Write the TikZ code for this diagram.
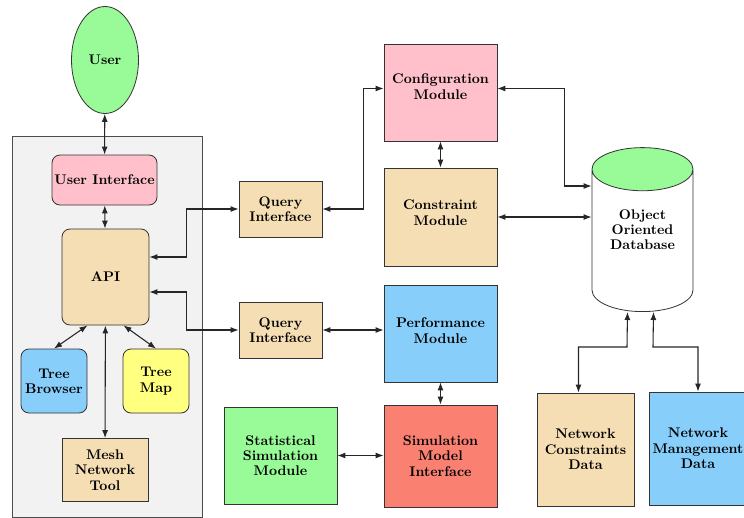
\documentclass[tikz,border=0pt]{standalone}
\usepackage{xcolor}
\usepackage{tikz}
\usetikzlibrary{shapes.geometric,arrows.meta,calc}

\definecolor{mintgreen}{HTML}{98FB98}
\definecolor{rosepink}{HTML}{FFC0CB}
\definecolor{wheat}{HTML}{F5DEB3}
\definecolor{skyblue}{HTML}{87CEFA}
\definecolor{paleyellow}{HTML}{FFFF80}
\definecolor{salmon}{HTML}{FA8072}
\definecolor{panelgray}{HTML}{F2F2F2}

\tikzset{
    box/.style={draw=black!80,line width=0.6pt,align=center,inner sep=1pt,
        font=\bfseries\fontsize{10.5}{11.5}\selectfont},
    rbox/.style={box,rounded corners=6pt},
    link/.style={<->,>={Latex[length=6pt,width=4.5pt]},draw=black!85,line width=0.8pt},
}

\begin{document}
\begin{tikzpicture}[x=0.75pt,y=-0.75pt]
    \useasboundingbox (0,0) rectangle (744,518);
    % client side panel
    \filldraw[fill=panelgray,draw=black!70,line width=0.6pt] (12,136) rectangle (202,517);

    \node[box,ellipse,fill=mintgreen,minimum width=50.25pt,minimum height=80.25pt] (user) at (105,60) {User};
    \node[rbox,fill=rosepink,minimum width=78.75pt,minimum height=37.5pt] (ui) at (104.5,180) {User Interface};
    \node[rbox,fill=wheat,minimum width=65.25pt,minimum height=72pt] (api) at (105.5,277) {API};
    \node[rbox,fill=skyblue,minimum width=49.5pt,minimum height=48pt] (tb) at (54,381) {Tree\\Browser};
    \node[rbox,fill=paleyellow,minimum width=49.5pt,minimum height=48pt] (tm) at (156,381) {Tree\\Map};
    \node[box,fill=wheat,minimum width=64.5pt,minimum height=47.25pt] (mesh) at (105,470) {Mesh\\Network\\Tool};

    % query layer
    \node[box,fill=wheat,minimum width=62.25pt,minimum height=42pt] (qa) at (280.5,209) {Query\\Interface};
    \node[box,fill=wheat,minimum width=62.25pt,minimum height=42pt] (qb) at (280.5,330) {Query\\Interface};
    \node[box,fill=mintgreen,minimum width=84.75pt,minimum height=72.75pt] (ssm) at (280.5,455.5) {Statistical\\Simulation\\Module};

    % modules
    \node[box,fill=rosepink,minimum width=84.75pt,minimum height=72.75pt,text depth=9pt] (cfg) at (440.5,92.5) {Configuration\\Module};
    \node[box,fill=wheat,minimum width=84.75pt,minimum height=73.5pt,text depth=6.75pt] (con) at (440.5,217) {Constraint\\Module};
    \node[box,fill=skyblue,minimum width=84.75pt,minimum height=72.75pt,text depth=4.5pt] (perf) at (440.5,333.5) {Performance\\Module};
    \node[box,fill=salmon,minimum width=84.75pt,minimum height=76.5pt] (smi) at (440.5,456) {Simulation\\Model\\Interface};

    % data
    \node[box,cylinder,shape border rotate=90,aspect=0.64,cylinder uses custom fill,
        cylinder end fill=mintgreen,cylinder body fill=white,text depth=20pt,
        minimum width=75.75pt,minimum height=123pt,anchor=south] (db) at (642.5,312) {Object\\Oriented\\Database};
    \node[box,fill=wheat,minimum width=72.75pt,minimum height=84.75pt] (ncd) at (585.5,449.5) {Network\\Constraints\\Data};
    \node[box,fill=skyblue,minimum width=72.75pt,minimum height=84.75pt] (nmd) at (698,448.5) {Network\\Management\\Data};

    \draw[link] (user) -- (ui);
    \draw[link] (ui) -- (api);
    \draw[link] ($(api.east)+(0,-20)$) -- ++(37,0) |- (qa.west);
    \draw[link] ($(api.east)+(0,15)$) -- ++(37,0) |- (qb.west);
    \draw[link] ($(api.south)+(-18,0)$) -- (tb.north);
    \draw[link] ($(api.south)+(18,0)$) -- (tm.north);
    \draw[link] (api) -- (mesh);
    \draw[link] (qa.east) -- ++(41,0) |- ($(cfg.west)+(0,-4)$);
    \draw[link] (cfg) -- (con);
    \draw[link] ($(cfg.east)+(0,-4)$) -- ++(67,0) |- (db.west |- 0,186);
    \draw[link] (con.east) -- (con.east -| db.west);
    \draw[link] (qb.east) -- (qb.east -| perf.west);
    \draw[link] (perf) -- (smi);
    \draw[link] (ssm.east) -- (ssm.east -| smi.west);
    \draw[link] ($(db.south)+(-15,0)$) -- (627,347) -| ($(ncd.north)+(-7,0)$);
    \draw[link] ($(db.south)+(11,0)$) -- (653,347) -| (nmd.north);
\end{tikzpicture}
\end{document}
